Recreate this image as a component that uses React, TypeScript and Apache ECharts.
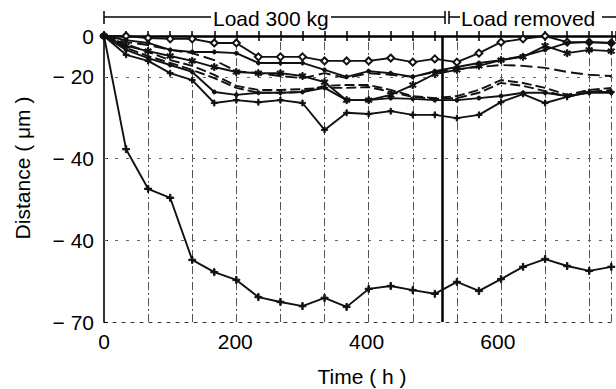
import React, { useEffect, useRef } from "react";
import * as echarts from "echarts";

// Time points (h)
const times = [0, 33.6, 67.2, 100.8, 134.4, 168, 201.6, 235.2, 268.8, 302.4, 336, 369.6, 403.2, 436.8, 470.4, 504, 537.6, 571.2, 604.8, 638.4, 672, 705.6, 739.2, 772.8];

// Axis ticks / labels (labels as printed in the original figure)
const xLabelValues = [0, 200, 400, 600];
const yTickValues = [0, -10, -30, -50, -70];
const yTickLabels = ["0", "\u2212 20", "\u2212 40", "\u2212 40", "\u2212 70"];

// Reference lines
const gridTimes = [67.2, 134.4, 201.6, 268.8, 336, 403.2, 470.4, 537.6, 604.8, 672, 739.2, 772.8];
const gridValues = [-10, -30, -50];
const loadRemovedTime = 515;

// Series values (µm)
const s1 = [0, 0, -0.5, -0.7, -0.7, -1.7, -1.7, -5.1, -5.1, -5.1, -6.1, -6.1, -6.1, -5.4, -6.4, -5.6, -6.4, -4.2, -1.5, -0.7, 0, -1.5, -1.5, -1.7];
const s2 = [0, -1.0, -1.7, -3.4, -3.9, -3.9, -4.2, -6.6, -6.6, -6.6, -8.3, -10.0, -8.6, -9.1, -10.0, -8.6, -7.6, -6.6, -5.9, -4.9, -3.4, -1.7, -1.5, -1.7];
const s3 = [0, -2.4, -3.7, -4.9, -6.1, -7.6, -8.8, -9.1, -9.1, -9.8, -11.3, -15.7, -15.7, -14.4, -12.0, -9.3, -8.3, -7.3, -5.9, -5.1, -2.4, -4.2, -3.4, -3.7];
const s4 = [0, -1.5, -2.2, -3.4, -4.2, -5.9, -8.6, -9.1, -9.8, -10.3, -9.1, -10.3, -9.1, -9.5, -10.0, -8.8, -8.1, -7.6, -7.1, -7.3, -7.8, -8.8, -9.5, -9.8];
const s5 = [0, -2.9, -4.9, -6.6, -8.3, -10.3, -12.7, -13.9, -13.9, -13.7, -12.2, -12.0, -12.0, -13.2, -14.7, -15.2, -14.7, -13.2, -10.8, -11.5, -12.7, -14.4, -13.2, -12.7];
const s6 = [0, -2.0, -3.9, -5.9, -7.3, -9.5, -12.2, -13.2, -13.2, -13.0, -12.7, -12.7, -12.5, -13.7, -14.9, -15.4, -15.2, -13.9, -11.5, -12.2, -13.5, -14.9, -13.7, -13.2];
const s7 = [0, -3.4, -5.4, -7.1, -8.8, -13.7, -14.4, -13.9, -13.9, -13.7, -12.7, -15.7, -15.7, -15.2, -15.4, -15.7, -15.7, -15.2, -14.7, -13.9, -13.9, -14.7, -13.9, -13.9];
const s8 = [0, -4.6, -6.1, -9.1, -10.8, -16.4, -15.7, -16.2, -15.7, -16.4, -23.0, -18.8, -19.1, -18.4, -19.3, -19.3, -20.1, -19.3, -16.2, -14.2, -16.4, -14.9, -13.7, -13.7];
const s9 = [0, -27.7, -37.4, -39.6, -54.8, -57.8, -59.7, -63.9, -65.1, -66.1, -64.1, -66.3, -61.9, -61.2, -62.2, -63.1, -60.2, -62.4, -59.5, -56.5, -54.6, -56.3, -57.5, -56.5];

const PLUS = "path://M4,0H6V4H10V6H6V10H4V6H0V4H4Z";
const STAR = "path://M4.2,0H5.8V3.2L8.6,1.5L9.4,2.9L6.6,4.6V5.4L9.4,7.1L8.6,8.5L5.8,6.8V10H4.2V6.8L1.4,8.5L0.6,7.1L3.4,5.4V4.6L0.6,2.9L1.4,1.5L4.2,3.2Z";
const FONT = "'Liberation Sans', Arial, Helvetica, sans-serif";

const seriesDefs = [
  { name: "A", data: s1, symbol: "emptyDiamond", size: 7, type: "solid" },
  { name: "B", data: s2, symbol: "circle", size: 4, type: "solid" },
  { name: "C", data: s3, symbol: STAR, size: 7, type: "solid" },
  { name: "D", data: s4, symbol: "none", size: 0, type: [12, 5] },
  { name: "E", data: s5, symbol: "none", size: 0, type: [10, 4] },
  { name: "F", data: s6, symbol: "none", size: 0, type: [10, 4] },
  { name: "G", data: s7, symbol: "circle", size: 4, type: "solid" },
  { name: "H", data: s8, symbol: PLUS, size: 6, type: "solid" },
  { name: "I", data: s9, symbol: PLUS, size: 7, type: "solid" },
];

export default function App() {
  const ref = useRef<HTMLDivElement>(null);

  useEffect(() => {
    if (!ref.current) return;
    const chart = echarts.init(ref.current, undefined, { renderer: "svg" });

    const dataSeries = seriesDefs.map((d) => ({
      name: d.name,
      type: "line",
      xAxisIndex: 0,
      yAxisIndex: 0,
      data: times.map((t, i) => [t, d.data[i]]),
      symbol: d.symbol,
      symbolSize: d.size,
      showSymbol: d.symbol !== "none",
      lineStyle: { color: "#111", width: 1.9, type: d.type },
      itemStyle: { color: "#111", borderColor: "#111", borderWidth: 1 },
      z: 5,
      silent: true,
    }));

    const refLines = {
      name: "ref",
      type: "line",
      xAxisIndex: 0,
      yAxisIndex: 0,
      data: [[0, 0]],
      showSymbol: false,
      lineStyle: { opacity: 0 },
      z: 1,
      silent: true,
      markLine: {
        silent: true,
        symbol: ["none", "none"],
        label: { show: false },
        animation: false,
        data: [
          ...gridTimes.map((t) => ({ xAxis: t, lineStyle: { type: [8, 3, 2, 3], color: "#555", width: 1 } })),
          ...gridValues.map((v) => ({ yAxis: v, lineStyle: { type: [3, 8], color: "#666", width: 1 } })),
          { xAxis: loadRemovedTime, lineStyle: { type: "solid", color: "#000", width: 2.5 } },
        ],
      },
    };

    const topAxisBase = {
      type: "value",
      position: "top",
      min: 0,
      max: 780,
      interval: 33.6,
      axisLabel: { show: false },
      splitLine: { show: false },
    };

    chart.setOption({
      animation: false,
      backgroundColor: "#fff",
      grid: { left: 104, top: 36, right: 0, bottom: 67, containLabel: false },
      xAxis: [
        {
          type: "value",
          position: "bottom",
          min: 0,
          max: 780,
          interval: 200,
          axisLine: { show: true, onZero: false, lineStyle: { color: "#333", width: 1, type: [3, 6] } },
          axisTick: { show: false },
          splitLine: { show: false },
          axisLabel: {
            customValues: xLabelValues,
            color: "#000",
            fontSize: 21,
            fontFamily: FONT,
            margin: 9,
            formatter: (v: number) => (xLabelValues.includes(v) ? String(v) : ""),
          },
        },
        {
          ...topAxisBase,
          axisLine: { show: true, onZero: false, lineStyle: { color: "#000", width: 2.5 } },
          axisTick: { show: true, inside: false, length: 5, lineStyle: { color: "#000", width: 1.5 } },
        },
        {
          ...topAxisBase,
          axisLine: { show: false, onZero: false },
          axisTick: { show: true, inside: true, length: 5, lineStyle: { color: "#000", width: 1.5 } },
        },
      ],
      yAxis: {
        type: "value",
        min: -70,
        max: 0,
        interval: 10,
        axisLine: { show: true, onZero: false, lineStyle: { color: "#000", width: 1.6 } },
        axisTick: { show: true, inside: true, length: 4, customValues: yTickValues, lineStyle: { color: "#000" } },
        splitLine: { show: false },
        axisLabel: {
          customValues: yTickValues,
          color: "#000",
          fontSize: 21,
          fontFamily: FONT,
          margin: 10,
          formatter: (v: number) => {
            const idx = yTickValues.indexOf(v);
            return idx >= 0 ? yTickLabels[idx] : "";
          },
        },
      },
      graphic: [
        { type: "line", shape: { x1: 104, y1: 17, x2: 211, y2: 17 }, style: { stroke: "#000", lineWidth: 1.5 } },
        { type: "line", shape: { x1: 104, y1: 11, x2: 104, y2: 24 }, style: { stroke: "#000", lineWidth: 1.5 } },
        {
          type: "text", x: 213, y: 18,
          style: { text: "Load 300 kg", fill: "#000", font: `21px ${FONT}`, textVerticalAlign: "middle", verticalAlign: "middle" },
        },
        { type: "line", shape: { x1: 331, y1: 17, x2: 445, y2: 17 }, style: { stroke: "#000", lineWidth: 1.5 } },
        { type: "line", shape: { x1: 445, y1: 11, x2: 445, y2: 24 }, style: { stroke: "#000", lineWidth: 1.5 } },
        { type: "line", shape: { x1: 449, y1: 11, x2: 449, y2: 24 }, style: { stroke: "#000", lineWidth: 1.5 } },
        { type: "line", shape: { x1: 449, y1: 17, x2: 460, y2: 17 }, style: { stroke: "#000", lineWidth: 1.5 } },
        {
          type: "text", x: 461, y: 18,
          style: { text: "Load removed", fill: "#000", font: `21px ${FONT}`, textVerticalAlign: "middle", verticalAlign: "middle" },
        },
        { type: "line", shape: { x1: 602, y1: 17, x2: 616, y2: 17 }, style: { stroke: "#000", lineWidth: 1.5 } },
        {
          type: "text", x: 362, y: 376,
          style: { text: "Time ( h )", fill: "#000", font: `21px ${FONT}`, textAlign: "center", align: "center", textVerticalAlign: "middle", verticalAlign: "middle" },
        },
        {
          type: "text", x: 22, y: 168, rotation: Math.PI / 2,
          style: { text: "Distance ( \u03bcm )", fill: "#000", font: `21px ${FONT}`, textAlign: "center", align: "center", textVerticalAlign: "middle", verticalAlign: "middle" },
        },
      ],
      series: [refLines, ...dataSeries],
    });

    return () => chart.dispose();
  }, []);

  return (
    <div
      ref={ref}
      style={{ position: "fixed", left: 0, top: 0, width: 616, height: 389, background: "#fff" }}
    />
  );
}
